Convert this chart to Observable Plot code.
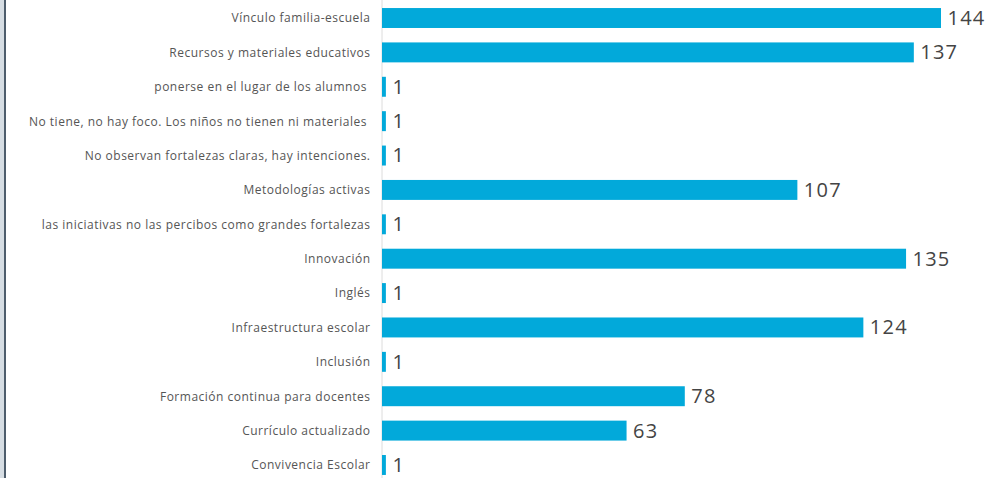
<!DOCTYPE html>
<html>
<head>
<meta charset="utf-8">
<script src="https://cdn.jsdelivr.net/npm/d3@7"></script>
<script src="https://cdn.jsdelivr.net/npm/@observablehq/plot@0.6"></script>
<style>
  html, body { margin: 0; padding: 0; background: #fff; }
  #wrap { position: relative; width: 1002px; height: 478px; overflow: hidden; }
  #edge1 { position: absolute; left: 0; top: 0; width: 4px; height: 478px; background: #d6dde3; }
  #edge2 { position: absolute; left: 4px; top: 0; width: 2px; height: 478px; background: #4e5d6c; }
  #chart svg { display: block; }
  .lbl text { white-space: pre; letter-spacing: 0.5px; }
  .val text { letter-spacing: 1.2px; }
</style>
</head>
<body>
<div id="wrap"><div id="chart"></div><div id="edge1"></div><div id="edge2"></div></div>
<script>
const categories = [
  "Vínculo familia-escuela",
  "Recursos y materiales educativos",
  "ponerse en el lugar de los alumnos ",
  "No tiene, no hay foco. Los niños no tienen ni materiales ",
  "No observan fortalezas claras, hay intenciones.",
  "Metodologías activas",
  "las iniciativas no las percibos como grandes fortalezas",
  "Innovación",
  "Inglés",
  "Infraestructura escolar",
  "Inclusión",
  "Formación continua para docentes",
  "Currículo actualizado",
  "Convivencia Escolar"
];
const values = [144, 137, 1, 1, 1, 107, 1, 135, 1, 124, 1, 78, 63, 1];

const data = categories.map((c, i) => ({category: c, value: values[i]}));

const chart = Plot.plot({
  width: 1002,
  height: 478,
  marginTop: 0,
  marginBottom: 0,
  marginLeft: 0,
  marginRight: 0,
  style: {fontFamily: "'Open Sans', sans-serif", background: "transparent"},
  x: {domain: [0, 144], range: [382, 941], axis: null},
  y: {domain: categories, range: [-6.4, 489.4], padding: 0.42, round: false, axis: null},
  marks: [
    Plot.ruleX([0], {stroke: "#dcdcdc", dx: -0.5, strokeWidth: 1}),
    Plot.barX(data, {x: "value", y: "category", fill: "#02a9da"}),
    Plot.text(data, {
      x: "value", y: "category", text: d => String(d.value),
      textAnchor: "start", dx: 6, fontSize: 20, fill: "#444",
      className: "val"
    }),
    Plot.text(data, {
      x: 0, y: "category", text: "category",
      textAnchor: "end", dx: -12, fontSize: 12, fill: "#555",
      className: "lbl"
    })
  ]
});
document.getElementById("chart").appendChild(chart);
</script>
</body>
</html>
